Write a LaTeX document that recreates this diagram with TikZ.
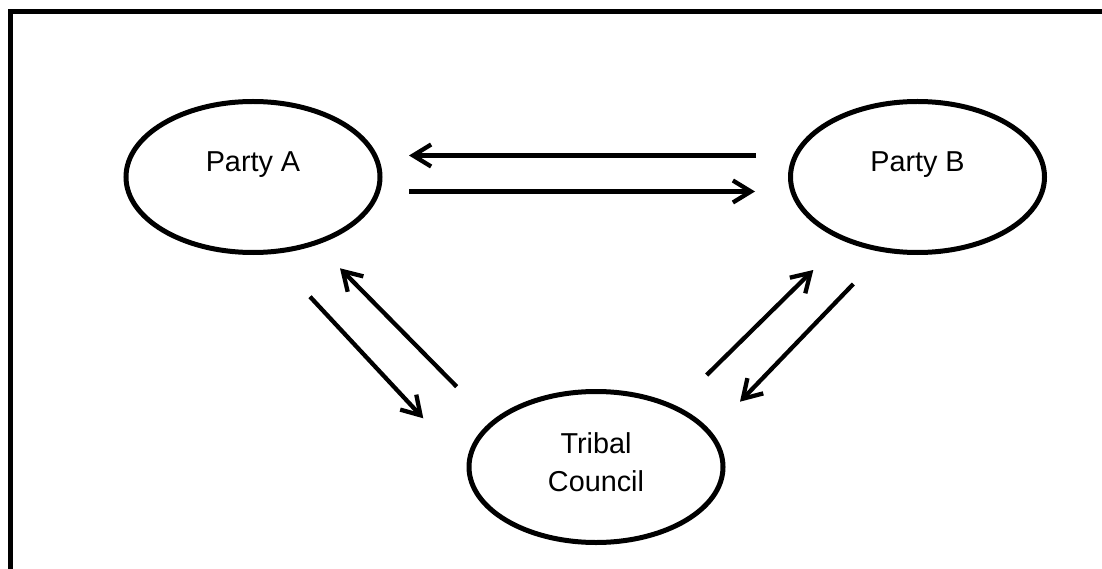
\documentclass[tikz,border=0pt]{standalone}
\usepackage{fontspec}
\setmainfont{Liberation Sans}
\usepackage{tikz}
\usetikzlibrary{shapes.geometric,arrows.meta}
\tikzstyle{party}=[ellipse,draw,line width=5pt,inner sep=0pt,minimum width=254pt,minimum height=151pt]
\tikzstyle{texto}=[inner sep=0pt,align=center,font=\fontsize{28.8}{38}\selectfont]
\tikzstyle{flecha}=[line width=4.3pt,-{Straight Barb[length=18pt,width=22pt]}]

\begin{document}
\begin{tikzpicture}[x=1pt,y=-1pt,thick]
    \useasboundingbox (0,0) rectangle (1102,569);
    % open frame, top and left side only
    \draw [line width=5pt] (1102,11.5) -- (10,11.5) -- (10,569);

    \node [party] (partyA) at (253,  177) {};
    \node [party] (partyB) at (917.5,  177) {};
    \node [party] (council) at (596,  467) {};
    \node [texto,anchor=base] (labelA) at ([yshift=5.3pt]partyA.center) {Party A};
    \node [texto,anchor=base] (labelB) at ([yshift=5.3pt]partyB.center) {Party B};
    \node [texto] (labelC) at ([yshift=4.5pt]council.center) {Tribal\\Council};

    % loose ends of the arrows
    \coordinate (ba1) at (756,  155.5);
    \coordinate (ba2) at (409,  155.5);
    \coordinate (ab1) at (409,  191.5);
    \coordinate (ab2) at (755,  191.5);
    \coordinate (ca1) at (456.7,  386.7);
    \coordinate (ca2) at (340,  268.3);
    \coordinate (ac1) at (310,  296.7);
    \coordinate (ac2) at (423.3,  418.3);
    \coordinate (cb1) at (706.7,  375);
    \coordinate (cb2) at (813.3,  270);
    \coordinate (bc1) at (853.3,  284);
    \coordinate (bc2) at (740,  401.7);

    \draw [flecha] (ba1) -- (ba2);
    \draw [flecha] (ab1) -- (ab2);
    \draw [flecha] (ca1) -- (ca2);
    \draw [flecha] (ac1) -- (ac2);
    \draw [flecha] (cb1) -- (cb2);
    \draw [flecha] (bc1) -- (bc2);
\end{tikzpicture}
\end{document}
